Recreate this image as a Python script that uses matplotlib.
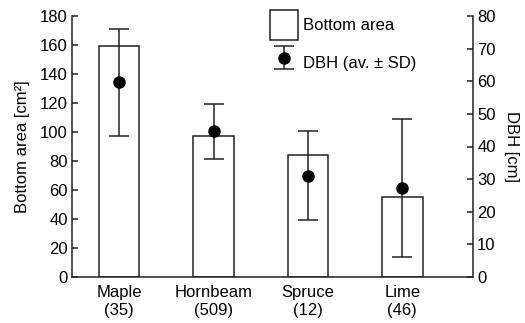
import matplotlib.pyplot as plt
import numpy as np
from matplotlib.legend_handler import HandlerErrorbar

plt.rcParams['font.family'] = ['Liberation Sans', 'DejaVu Sans']

# data
species = ['Maple\n(35)', 'Hornbeam\n(509)', 'Spruce\n(12)', 'Lime\n(46)']
bottom_area = [159, 97, 84, 55]        # cm^2, left axis
dbh_mean = [59.7, 44.6, 31.0, 27.3]    # cm, right axis
dbh_sd = [16.4, 8.4, 13.6, 21.1]

line_col = '#222222'
x = np.arange(len(species))

fig = plt.figure(figsize=(5.25, 3.23), dpi=100)
ax = fig.add_axes([72/525, 1 - 277/323, (473 - 72)/525, (277 - 16)/323])

bars = ax.bar(x, bottom_area, width=0.43, color='white', edgecolor=line_col,
              linewidth=1.1, label='Bottom area')
ax.set_xlim(-0.5, 3.75)
ax.set_ylim(0, 180)
ax.set_yticks(range(0, 181, 20))
ax.set_xticks(x)
ax.set_xticklabels(species, fontsize=12, linespacing=1.25)
ax.tick_params(axis='x', length=0, pad=6)
ax.tick_params(axis='y', direction='in', length=4, width=1.1, color=line_col,
               labelsize=12, pad=3)
ax.set_ylabel('Bottom area [cm²]', fontsize=12, labelpad=7)
for s in ['top', 'right']:
    ax.spines[s].set_visible(False)
for s in ['left', 'bottom']:
    ax.spines[s].set_color(line_col)
    ax.spines[s].set_linewidth(1.1)

ax2 = ax.twinx()
eb = ax2.errorbar(x, dbh_mean, yerr=dbh_sd, fmt='o', color='black',
                  ecolor=line_col, markersize=8, elinewidth=1.1,
                  capsize=7, capthick=1.1, label='DBH (av. ± SD)')
ax2.set_ylim(0, 80)
ax2.set_yticks(range(0, 81, 10))
ax2.tick_params(axis='y', direction='in', length=4, width=1.1, color=line_col,
                labelsize=12, pad=3)
ax2.set_ylabel('DBH [cm]', fontsize=12, rotation=270, labelpad=17)
for s in ['top', 'left', 'bottom']:
    ax2.spines[s].set_visible(False)
ax2.spines['right'].set_color(line_col)
ax2.spines['right'].set_linewidth(1.1)

ax2.legend([bars, eb], ['Bottom area', 'DBH (av. ± SD)'],
           handler_map={type(eb): HandlerErrorbar(xerr_size=0.7)},
           loc='upper left', bbox_to_anchor=(270/525, 1 - 10/323),
           bbox_transform=fig.transFigure, frameon=False, fontsize=12,
           borderpad=0, borderaxespad=0, handlelength=1.65, handleheight=2.4,
           handletextpad=0.35, labelspacing=0.45)

fig.savefig('out.png', dpi=100)
